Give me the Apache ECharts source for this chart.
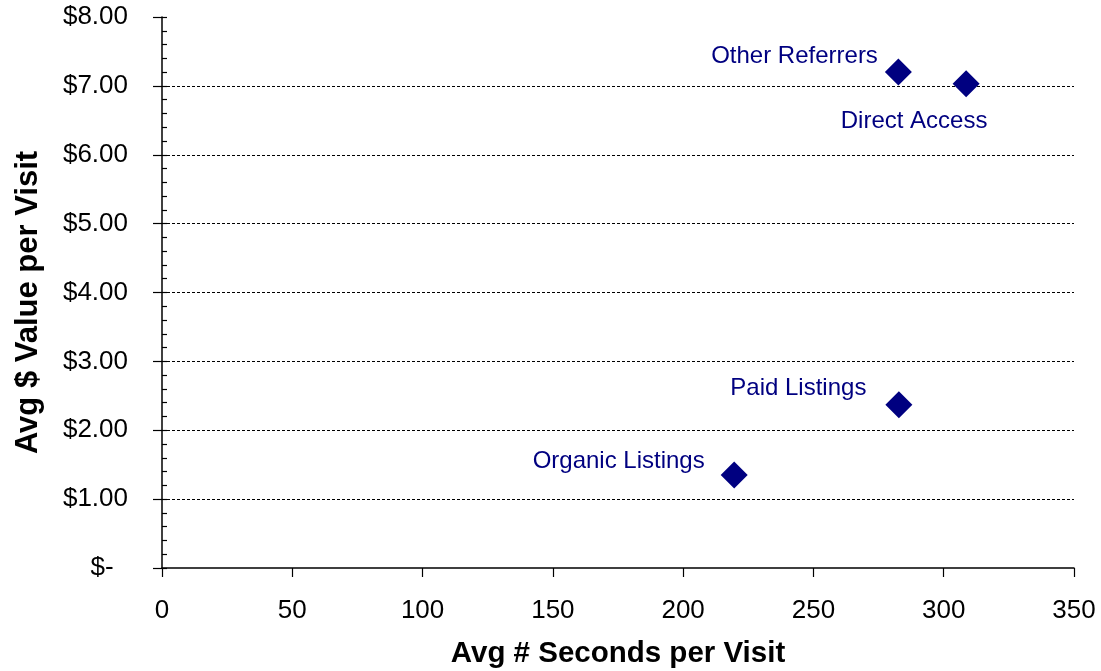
<!DOCTYPE html>
<html>
<head>
<meta charset="utf-8">
<title>Avg $ Value vs Avg Seconds per Visit</title>
<script src="https://cdn.jsdelivr.net/npm/echarts@6/dist/echarts.min.js"></script>
<style>
  html, body { margin: 0; padding: 0; background: #ffffff; }
  #chart { width: 1101px; height: 671px; }
</style>
</head>
<body>
<div id="chart"></div>
<script>
// Traffic sources: average seconds per visit vs average dollar value per visit
const sources = ['Other Referrers', 'Direct Access', 'Paid Listings', 'Organic Listings'];
const secondsPerVisit = [282.6, 308.6, 282.8, 219.6];
const valuePerVisit = [7.20, 7.03, 2.37, 1.35];

const yTickLabels = ['$-  ', '$1.00', '$2.00', '$3.00', '$4.00', '$5.00', '$6.00', '$7.00', '$8.00'];
const xTickLabels = ['0', '50', '100', '150', '200', '250', '300', '350'];

// Label placement for each point (left of marker, nudged up; one below)
const labelSpots = [
  { position: 'left', distance: 7, offset: [0, -16] },
  { position: 'bottom', distance: 12, offset: [-52, 0] },
  { position: 'left', distance: 19, offset: [0, -16] },
  { position: 'left', distance: 16, offset: [0, -14] }
];

const navy = '#000080';
const font = 'Arial, "Liberation Sans", sans-serif';

const points = sources.map((name, i) => ({
  name: name,
  value: [secondsPerVisit[i], valuePerVisit[i]],
  label: Object.assign({}, labelSpots[i])
}));

const chart = echarts.init(document.getElementById('chart'), null, { renderer: 'canvas' });

chart.setOption({
  animation: false,
  backgroundColor: '#ffffff',
  grid: {
    left: 162, right: 27, top: 17, bottom: 103,
    containLabel: false, outerBoundsMode: 'none'
  },
  xAxis: {
    type: 'value',
    min: 0, max: 350, interval: 50,
    name: 'Avg # Seconds per Visit',
    nameLocation: 'middle',
    nameGap: 71,
    nameTextStyle: { fontFamily: font, fontWeight: 'bold', fontSize: 29.5, color: '#000' },
    axisLine: { show: true, lineStyle: { color: '#000', width: 1.5 } },
    axisTick: { show: true, inside: false, length: 9, lineStyle: { color: '#000', width: 1.2 } },
    axisLabel: {
      fontFamily: font, fontSize: 26, color: '#000', margin: 30,
      formatter: (v) => xTickLabels[Math.round(v / 50)]
    },
    splitLine: { show: false }
  },
  yAxis: [
    {
      type: 'value',
      min: 0, max: 8, interval: 1,
      name: 'Avg $ Value per Visit',
      nameLocation: 'middle',
      nameGap: 118,
      nameRotate: 90,
      nameTextStyle: {
        fontFamily: font, fontWeight: 'bold', fontSize: 31, color: '#000',
        padding: [0, 20, 0, 0]
      },
      axisLine: { show: true, lineStyle: { color: '#000', width: 1.5 } },
      axisTick: { show: true, inside: false, length: 9, lineStyle: { color: '#000', width: 1.2 } },
      axisLabel: {
        fontFamily: font, fontSize: 26, color: '#000', margin: 34,
        formatter: (v) => yTickLabels[Math.round(v)]
      },
      splitLine: {
        show: true, showMinLine: false, showMaxLine: false,
        lineStyle: { color: '#000', width: 1, type: [3, 2] }
      }
    },
    {
      // inner ticks: major and minor marks on the plot side of the value axis
      type: 'value',
      min: 0, max: 8, interval: 1,
      position: 'left',
      axisLine: { show: false },
      axisTick: { show: true, inside: true, length: 5, lineStyle: { color: '#000', width: 1.2 } },
      minorTick: { show: true, splitNumber: 5, length: 5, lineStyle: { color: '#000', width: 1.2 } },
      axisLabel: { show: false },
      splitLine: { show: false }
    }
  ],
  series: [
    {
      type: 'scatter',
      yAxisIndex: 0,
      symbol: 'diamond',
      symbolSize: 27,
      itemStyle: { color: navy, opacity: 1 },
      label: {
        show: true,
        formatter: '{b}',
        fontFamily: font,
        fontSize: 24,
        color: navy,
        opacity: 1
      },
      data: points
    }
  ]
});
</script>
</body>
</html>
